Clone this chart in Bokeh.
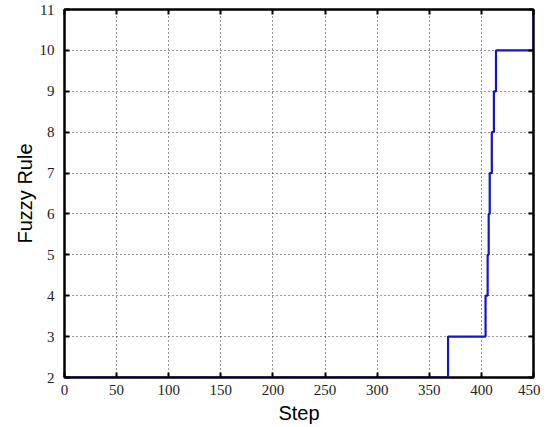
from bokeh.plotting import figure
from bokeh.models import LinearAxis, Range1d, FixedTicker
from bokeh.embed import file_html
from bokeh.resources import INLINE

# Data: step at which the fuzzy rule index changes, and the rule value
steps = [0, 368, 404, 406, 407, 408, 410, 412, 414, 450]
rules = [2, 3, 4, 5, 6, 7, 8, 9, 10, 11]

x_ticks = [0, 50, 100, 150, 200, 250, 300, 350, 400, 450]
y_ticks = [2, 3, 4, 5, 6, 7, 8, 9, 10, 11]

TICK_FONT = "Liberation Sans Narrow"
LABEL_FONT = "Liberation Sans"

p = figure(width=540, height=426, output_backend="svg", toolbar_location=None,
           x_range=Range1d(0, 450), y_range=Range1d(2, 11),
           min_border_left=64, min_border_right=7, min_border_top=9, min_border_bottom=42)
p.background_fill_color = "white"
p.border_fill_color = "white"
p.outline_line_color = "black"
p.outline_line_width = 2

p.step(steps, rules, mode="after", line_color="#1414c8", line_width=2.2)

for ax in (p.xaxis[0], p.yaxis[0]):
    ax.major_tick_in = 5
    ax.major_tick_out = 0
    ax.minor_tick_in = 0
    ax.minor_tick_out = 0
    ax.axis_line_color = "black"
    ax.axis_line_width = 2
    ax.major_tick_line_width = 2
    ax.major_label_text_font = TICK_FONT
    ax.major_label_text_font_size = "15px"
    ax.major_label_text_color = "#222222"
    ax.axis_label_text_font = LABEL_FONT
    ax.axis_label_text_font_size = "20px"
    ax.axis_label_text_font_style = "normal"
    ax.axis_label_text_color = "black"

p.xaxis[0].ticker = FixedTicker(ticks=x_ticks)
p.yaxis[0].ticker = FixedTicker(ticks=y_ticks)
p.xaxis[0].axis_label = "Step"
p.yaxis[0].axis_label = "Fuzzy Rule"
p.xaxis[0].major_label_standoff = 7
p.yaxis[0].major_label_standoff = 10
p.xaxis[0].axis_label_standoff = 4
p.yaxis[0].axis_label_standoff = 1

top = LinearAxis(ticker=FixedTicker(ticks=x_ticks),
                 major_label_overrides={t: "" for t in x_ticks},
                 major_label_text_font_size="1px",
                 major_tick_in=5, major_tick_out=0, minor_tick_in=0, minor_tick_out=0,
                 major_label_standoff=0, axis_line_width=2, major_tick_line_width=2)
right = LinearAxis(ticker=FixedTicker(ticks=y_ticks),
                   major_label_overrides={t: "" for t in y_ticks},
                   major_label_text_font_size="1px",
                   major_tick_in=5, major_tick_out=0, minor_tick_in=0, minor_tick_out=0,
                   major_label_standoff=0, axis_line_width=2, major_tick_line_width=2)
p.add_layout(top, "above")
p.add_layout(right, "right")

p.xgrid[0].ticker = FixedTicker(ticks=x_ticks)
p.ygrid[0].ticker = FixedTicker(ticks=y_ticks)
for g in (p.xgrid[0], p.ygrid[0]):
    g.grid_line_color = "black"
    g.grid_line_alpha = 0.8
    g.grid_line_width = 1
    g.grid_line_dash = "1 3"

open("out.html", "w").write(file_html(p, INLINE))
